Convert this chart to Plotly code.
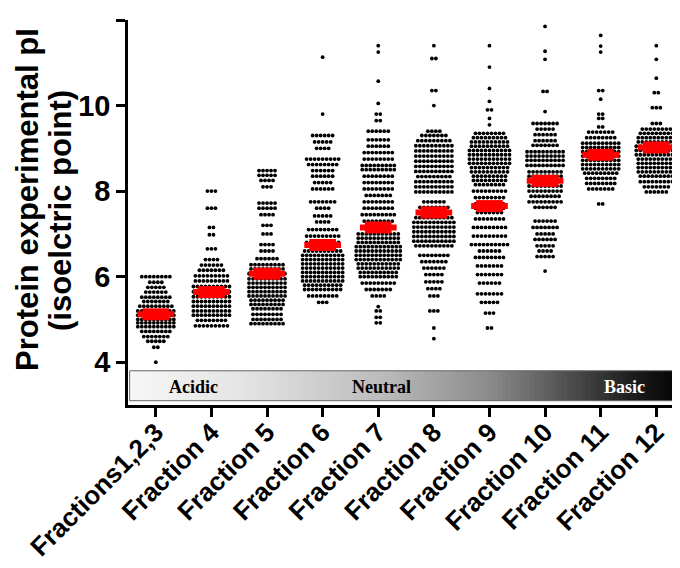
import plotly.graph_objects as go

categories = ["Fractions1,2,3", "Fraction 4", "Fraction 5", "Fraction 6", "Fraction 7",
              "Fraction 8", "Fraction 9", "Fraction 10", "Fraction 11", "Fraction 12"]

# red median bars (pI)
medians = [5.12, 5.64, 6.07, 6.74, 7.15, 7.50, 7.65, 8.24, 8.85, 9.02]

frac_123 = [(6.0, 8), (5.87, 4), (5.75, 5), (5.64, 6), (5.52, 8), (5.42, 7), (5.31, 9),
            (5.2, 10), (5.1, 10), (5.0, 10), (4.92, 10), (4.83, 10), (4.72, 8), (4.6, 7),
            (4.49, 5), (4.35, 2), (4.0, 1)]
frac_4 = [(8.0, 3), (7.6, 3), (7.15, 2), (6.98, 2), (6.65, 3), (6.4, 4), (6.27, 6), (6.15, 7),
          (6.02, 9), (5.9, 9), (5.77, 10), (5.65, 10), (5.53, 10), (5.42, 10), (5.31, 10),
          (5.2, 10), (5.1, 10), (4.98, 8), (4.85, 9)]
frac_5 = [(8.48, 5), (8.37, 5), (8.25, 4), (8.1, 3), (7.72, 5), (7.6, 5), (7.45, 4), (7.2, 3),
          (7.0, 3), (6.75, 4), (6.6, 4), (6.42, 6), (6.28, 9), (6.18, 9), (6.07, 10),
          (5.95, 10), (5.85, 10), (5.75, 10), (5.65, 10), (5.55, 10), (5.45, 9), (5.35, 9),
          (5.25, 8), (5.12, 8), (5.0, 8), (4.9, 9)]
frac_6 = [(11.13, 1), (9.8, 1), (9.3, 6), (9.15, 5), (9.0, 4), (8.75, 9), (8.62, 8), (8.48, 6),
          (8.35, 6), (8.2, 5), (8.05, 6), (7.75, 7), (7.6, 4), (7.42, 5), (7.28, 4), (7.1, 8),
          (6.95, 9), (6.8, 9), (6.6, 10), (6.5, 11), (6.4, 11), (6.3, 11), (6.2, 11),
          (6.1, 11), (6.0, 11), (5.9, 11), (5.8, 10), (5.7, 10), (5.55, 8), (5.4, 3)]
frac_7 = [(11.4, 1), (11.25, 1), (10.57, 1), (10.05, 1), (9.8, 2), (9.65, 2), (9.4, 6),
          (9.2, 6), (9.05, 6), (8.9, 8), (8.75, 8), (8.6, 9), (8.5, 9), (8.35, 8), (8.2, 8),
          (8.05, 8), (7.9, 7), (7.75, 8), (7.6, 8), (7.45, 9), (7.3, 8), (7.0, 11), (6.9, 11),
          (6.8, 11), (6.7, 12), (6.6, 12), (6.5, 12), (6.4, 12), (6.3, 11), (6.2, 11),
          (6.1, 10), (6.0, 10), (5.85, 9), (5.7, 7), (5.55, 4), (5.3, 1), (5.2, 2), (5.05, 2),
          (4.92, 2)]
frac_8 = [(11.4, 1), (11.1, 2), (10.35, 2), (10.0, 1), (9.4, 4), (9.3, 7), (9.18, 9),
          (9.06, 10), (8.94, 10), (8.82, 10), (8.7, 10), (8.58, 10), (8.46, 10), (8.34, 9),
          (8.22, 10), (8.1, 10), (7.98, 10), (7.75, 6), (7.62, 8), (7.38, 10), (7.27, 11),
          (7.16, 11), (7.05, 11), (6.94, 11), (6.83, 11), (6.72, 10), (6.5, 8), (6.35, 7),
          (6.2, 6), (6.05, 5), (5.88, 5), (5.72, 4), (5.55, 3), (5.2, 3), (4.8, 1), (4.55, 1)]
frac_9 = [(11.4, 1), (10.9, 1), (10.4, 1), (10.1, 1), (9.9, 2), (9.7, 1), (9.55, 1), (9.35, 8),
          (9.25, 9), (9.15, 10), (9.05, 10), (8.95, 11), (8.85, 11), (8.75, 11), (8.65, 11),
          (8.55, 10), (8.45, 10), (8.35, 9), (8.25, 9), (8.15, 8), (8.0, 9), (7.85, 8),
          (7.7, 8), (7.6, 8), (7.5, 7), (7.35, 8), (7.15, 9), (6.95, 9), (6.75, 10), (6.6, 6),
          (6.45, 8), (6.25, 7), (6.05, 7), (5.85, 6), (5.6, 7), (5.4, 5), (5.15, 3), (4.8, 2)]
frac_10 = [(11.85, 1), (11.27, 1), (11.08, 1), (10.33, 2), (9.86, 1), (9.58, 7), (9.45, 5),
           (9.32, 6), (9.18, 6), (9.07, 7), (8.92, 10), (8.82, 10), (8.72, 10), (8.6, 10),
           (8.45, 9), (8.35, 9), (8.12, 9), (8.0, 9), (7.88, 8), (7.75, 9), (7.62, 6),
           (7.3, 6), (7.15, 7), (7.0, 5), (6.87, 6), (6.72, 5), (6.6, 4), (6.47, 5), (6.13, 1)]
frac_11 = [(11.64, 1), (11.39, 1), (11.25, 1), (10.35, 2), (10.15, 1), (9.8, 2), (9.7, 2),
           (9.5, 2), (9.38, 7), (9.25, 8), (9.12, 10), (9.02, 10), (8.92, 10), (8.82, 10),
           (8.72, 10), (8.62, 10), (8.52, 10), (8.42, 9), (8.3, 8), (8.18, 8), (8.05, 7),
           (7.7, 2)]
frac_12 = [(11.4, 1), (11.08, 1), (10.64, 1), (10.3, 2), (9.95, 3), (9.58, 3), (9.45, 8),
           (9.35, 9), (9.25, 10), (9.15, 10), (9.05, 11), (8.95, 11), (8.85, 11), (8.75, 10),
           (8.65, 10), (8.55, 10), (8.45, 10), (8.35, 9), (8.22, 9), (8.1, 7), (7.98, 6)]

fractions = [frac_123, frac_4, frac_5, frac_6, frac_7, frac_8, frac_9, frac_10, frac_11, frac_12]

zone_labels = ["Acidic", "Neutral", "Basic"]
title_lines = ["Protein experimental pI", "(isoelctric point)"]

FONT = "Liberation Sans, Arial, sans-serif"
DX = 0.072  # horizontal spread between dots of one row (category units)

xs, ys = [], []
for i, hist in enumerate(fractions):
    for pi, n in hist:
        for j in range(n):
            xs.append(i + (j - (n - 1) / 2) * DX)
            ys.append(pi)

fig = go.Figure()

# gradient band (acidic -> basic)
ncol = 120
x0, x1 = -0.47, 9.57
xedges = [x0 + (x1 - x0) * k / ncol for k in range(ncol + 1)]
fig.add_trace(go.Heatmap(
    x=xedges, y=[3.1, 3.8], z=[[k / (ncol - 1) for k in range(ncol)]],
    colorscale=[[0, "#f6f6f6"], [0.2, "#e4e4e4"], [0.45, "#bcbcbc"], [0.65, "#8a8a8a"],
                [0.8, "#4a4a4a"], [0.9, "#1e1e1e"], [1, "#000000"]],
    showscale=False, hoverinfo="skip", zmin=0, zmax=1))

fig.add_trace(go.Scatter(
    x=xs, y=ys, mode="markers",
    marker=dict(size=3.8, color="black", line=dict(width=0)),
    hoverinfo="y", showlegend=False))

# median bars
thin_x, thin_y, thick_x, thick_y = [], [], [], []
for i, m in enumerate(medians):
    thin_x += [i - 0.33, i + 0.33, None]
    thin_y += [m, m, None]
    thick_x += [i - 0.24, i + 0.24, None]
    thick_y += [m, m, None]
fig.add_trace(go.Scatter(x=thin_x, y=thin_y, mode="lines",
                         line=dict(color="#ff0000", width=6), showlegend=False, hoverinfo="skip"))
fig.add_trace(go.Scatter(x=thick_x, y=thick_y, mode="lines",
                         line=dict(color="#ff0000", width=12), showlegend=False, hoverinfo="skip"))

fig.add_shape(type="rect", x0=x0, x1=x1, y0=3.1, y1=3.8, xref="x", yref="y",
              line=dict(color="#666666", width=1), fillcolor="rgba(0,0,0,0)")

for txt, xp, col in zip(zone_labels, [0.67, 4.05, 8.43], ["black", "black", "white"]):
    fig.add_annotation(x=xp, y=3.43, xref="x", yref="y", text=txt, showarrow=False,
                       font=dict(family="Liberation Serif, Times New Roman, serif", size=18,
                                 color=col, weight="bold"))

for txt, px, py in zip(title_lines, [19, 52], [192, 203]):
    fig.add_annotation(
        xref="paper", yref="paper", x=(px - 120) / 560, y=(397 - py) / 385,
        text=txt, textangle=-90, showarrow=False, xanchor="center", yanchor="middle",
        borderpad=0,
        font=dict(family=FONT, size=31, color="black", weight="bold"))

fig.update_layout(
    width=680, height=568,
    margin=dict(l=120, r=0, t=12, b=171),
    plot_bgcolor="white", paper_bgcolor="white",
    showlegend=False,
    xaxis=dict(range=[-0.5, 9.57], tickvals=list(range(len(categories))), ticktext=categories,
               tickangle=-45, showline=True, linecolor="black", linewidth=2.5,
               ticks="outside", ticklen=9, tickwidth=2.5, tickcolor="black",
               ticklabelstandoff=-10,
               showgrid=False, zeroline=False,
               tickfont=dict(family=FONT, size=26, color="black", weight="bold")),
    yaxis=dict(range=[3, 12], tickvals=[4, 6, 8, 10, 12], showline=True, linecolor="black",
               linewidth=2.5, ticks="outside", ticklen=9, tickwidth=2.5, tickcolor="black",
               showgrid=False, zeroline=False,
               tickfont=dict(family=FONT, size=29, color="black", weight="bold")),
)

fig.write_html("out.html")
